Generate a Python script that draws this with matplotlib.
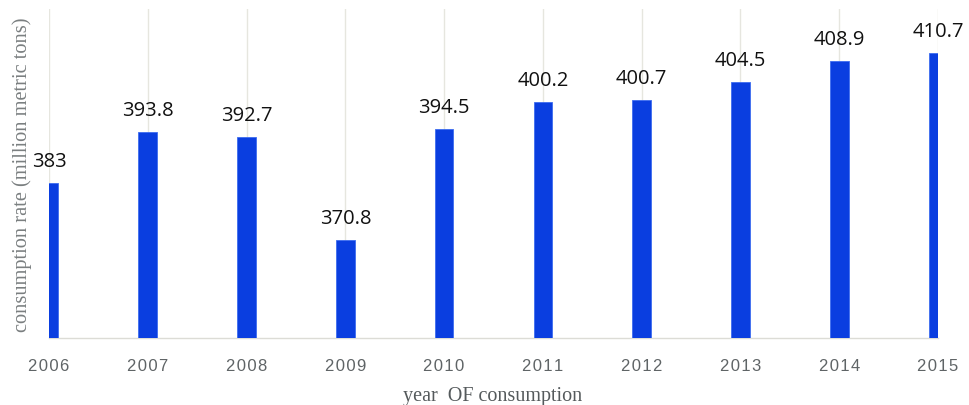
import matplotlib
matplotlib.use("Agg")
import matplotlib.pyplot as plt

years = ["2006", "2007", "2008", "2009", "2010", "2011", "2012", "2013", "2014", "2015"]
values = [383, 393.8, 392.7, 370.8, 394.5, 400.2, 400.7, 404.5, 408.9, 410.7]
value_labels = ["383", "393.8", "392.7", "370.8", "394.5", "400.2", "400.7", "404.5", "408.9", "410.7"]

W, H = 970, 405
fig = plt.figure(figsize=(W / 100, H / 100), dpi=100)
ax = fig.add_axes([49 / W, (H - 337.7) / H, (938 - 49) / W, (337.7 - 9) / H])

ymin, ymax = 350, 420
x = list(range(len(years)))
ax.bar(x, [v - ymin for v in values], bottom=ymin, width=0.19, color="#0a3ee0",
       edgecolor="#3d6cf0", linewidth=0.6, zorder=3)
ax.set_ylim(ymin, ymax)
ax.set_xlim(0, len(years) - 1)

ax.set_xticks(x)
ax.set_xticklabels(["\u200a".join(y) for y in years], fontsize=12, color="#5f6466",
                   family=["Liberation Sans", "DejaVu Sans"])
ax.tick_params(axis="x", length=0, pad=15)
ax.set_yticks([])
ax.grid(axis="x", color="#e6e6df", linewidth=1.0, zorder=0)

for s in ["top", "right", "left"]:
    ax.spines[s].set_visible(False)
ax.spines["bottom"].set_color("#dcdcd6")
ax.spines["bottom"].set_linewidth(1.0)

for xi, v, t in zip(x, values, value_labels):
    ax.annotate(t, (xi, v), xytext=(0, 16), textcoords="offset pixels",
                ha="center", va="baseline", fontsize=14.5, family="Open Sans", color="#111111",
                annotation_clip=False)

fig.text(22 / W, 1 - 175 / H, "consumption rate (million metric tons)", rotation=90,
         ha="center", va="center", fontsize=14.7, family="Liberation Serif", color="#7a7f80")
fig.text(493 / W, 1 - 396 / H, "year  OF consumption", ha="center", va="center",
         fontsize=14.5, family="Liberation Serif", color="#555a5c")

fig.savefig("out.png", dpi=100)
